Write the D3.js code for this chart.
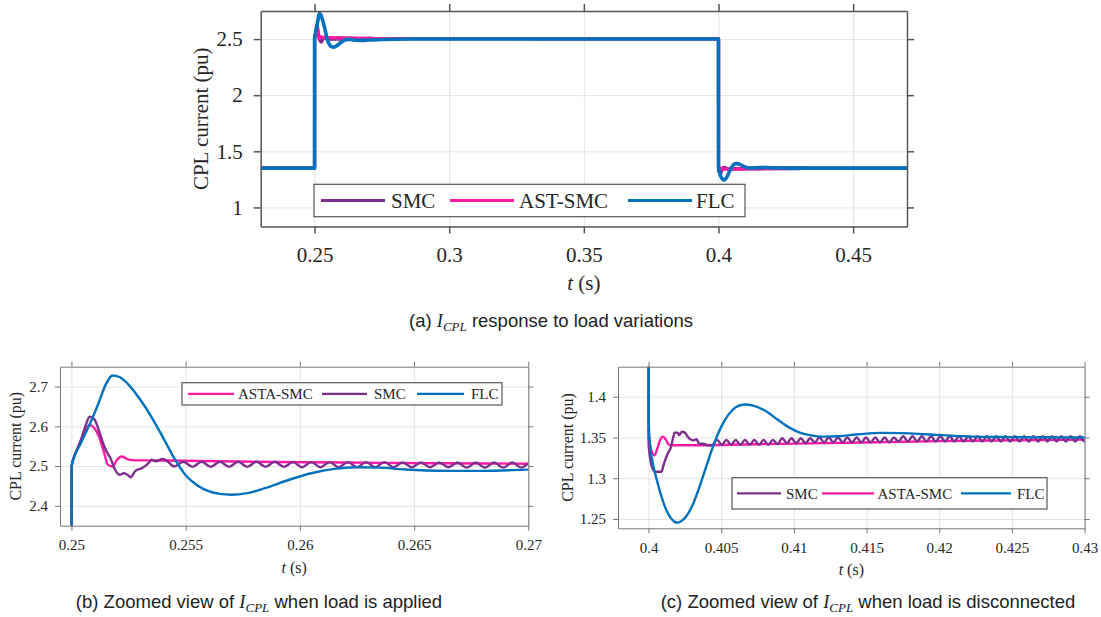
<!DOCTYPE html>
<html>
<head>
<meta charset="utf-8">
<script src="https://cdn.jsdelivr.net/npm/d3@7"></script>
<style>
body { margin: 0; background: #fff; }
svg { display: block; font-family: "Liberation Serif", "Times New Roman", serif; }
.cap { font-family: "Liberation Sans", Arial, sans-serif; fill: #222; }
</style>
</head>
<body>
<svg width="1101" height="617"></svg>
<script>
// ---- data (t in s, current in pu) ----

// FLC: step up at 0.25 s, step down at 0.4 s
const flcData = [
  [0.23, 1.35], [0.25, 1.35], [0.25001, 2.5], [0.2504, 2.556], [0.2508, 2.605], [0.2512, 2.66],
  [0.2515, 2.705], [0.2518, 2.728], [0.2521, 2.724], [0.2525, 2.705], [0.253, 2.668], [0.2535, 2.624],
  [0.254, 2.573], [0.2545, 2.52], [0.255, 2.477], [0.2555, 2.452], [0.256, 2.437], [0.2565, 2.43],
  [0.257, 2.428], [0.2577, 2.432], [0.2585, 2.445], [0.2595, 2.465], [0.2605, 2.482], [0.2615, 2.493],
  [0.2625, 2.497], [0.2635, 2.496], [0.2645, 2.492], [0.2655, 2.489], [0.2665, 2.488], [0.268, 2.488],
  [0.27, 2.491], [0.275, 2.496], [0.285, 2.5], [0.4, 2.5],
  [0.40001, 1.37], [0.4001, 1.342], [0.4003, 1.318], [0.4006, 1.296], [0.4009, 1.277], [0.4012, 1.262],
  [0.4015, 1.252], [0.4018, 1.2465], [0.402, 1.2455], [0.4023, 1.248], [0.4027, 1.256], [0.4031, 1.27],
  [0.4035, 1.289], [0.404, 1.316], [0.4045, 1.342], [0.405, 1.363], [0.4055, 1.378], [0.406, 1.387],
  [0.4066, 1.3905], [0.4072, 1.389], [0.408, 1.383], [0.4088, 1.373], [0.4096, 1.363], [0.4104, 1.356],
  [0.4112, 1.3525], [0.412, 1.351], [0.413, 1.3515], [0.4145, 1.354], [0.416, 1.3556], [0.4175, 1.3553],
  [0.419, 1.354], [0.421, 1.352], [0.424, 1.3506], [0.427, 1.3502], [0.43, 1.35], [0.47, 1.35]
];

// AST(A)-SMC
const astData = [
  [0.23, 1.35], [0.25, 1.35], [0.25001, 2.5], [0.2502, 2.535], [0.2504, 2.562], [0.2506, 2.59],
  [0.2508, 2.603], [0.251, 2.596], [0.2512, 2.575], [0.2514, 2.54], [0.2516, 2.503], [0.2518, 2.499],
  [0.252, 2.516], [0.2522, 2.524], [0.2524, 2.519], [0.2526, 2.515], [0.254, 2.514], [0.258, 2.511],
  [0.262, 2.509], [0.266, 2.507], [0.27, 2.506], [0.28, 2.503], [0.4, 2.502],
  [0.40001, 1.35], [0.4002, 1.334], [0.4004, 1.328], [0.4006, 1.336], [0.4008, 1.347], [0.401, 1.351],
  [0.4012, 1.347], [0.4014, 1.341], [0.4016, 1.3405], [0.41, 1.3425], [0.42, 1.3455], [0.43, 1.3475],
  [0.47, 1.349]
];

// SMC: transient after load step
const smcStepUp = [
  [0.23, 1.35], [0.25, 1.35], [0.25001, 2.5], [0.2502, 2.535], [0.2504, 2.563], [0.2506, 2.598],
  [0.2508, 2.624], [0.251, 2.618], [0.2512, 2.59], [0.2514, 2.555], [0.2516, 2.53], [0.2517, 2.521],
  [0.2519, 2.492], [0.2521, 2.478], [0.2523, 2.482], [0.2525, 2.476], [0.2526, 2.472], [0.2528, 2.488],
  [0.2531, 2.495], [0.2534, 2.509], [0.2535, 2.516], [0.2537, 2.512], [0.254, 2.518], [0.2542, 2.512]
];
// SMC chattering after the load is applied
const smcChatterB = [
  [0.2545, 2.499], [0.2549, 2.511], [0.2553, 2.498], [0.2557, 2.511], [0.2561, 2.498], [0.2565, 2.511],
  [0.2569, 2.498], [0.2573, 2.511], [0.2577, 2.498], [0.2581, 2.511], [0.2585, 2.498], [0.2589, 2.511],
  [0.2593, 2.498], [0.2597, 2.51], [0.2601, 2.497], [0.2605, 2.51], [0.2609, 2.497], [0.2613, 2.51],
  [0.2617, 2.497], [0.2621, 2.51], [0.2625, 2.497], [0.2629, 2.51], [0.2633, 2.497], [0.2637, 2.51],
  [0.2641, 2.497], [0.2645, 2.509], [0.2649, 2.497], [0.2653, 2.509], [0.2657, 2.497], [0.2661, 2.509],
  [0.2665, 2.497], [0.2669, 2.509], [0.2673, 2.496], [0.2677, 2.509], [0.2681, 2.496], [0.2685, 2.509],
  [0.2689, 2.496], [0.2693, 2.509], [0.2697, 2.496], [0.2701, 2.509]
];
// SMC transient after load is disconnected
const smcStepDown = [
  [0.272, 2.504], [0.4, 2.503], [0.40001, 1.34], [0.4003, 1.311], [0.4005, 1.308], [0.4009, 1.308],
  [0.401, 1.314], [0.4012, 1.325], [0.4014, 1.333], [0.4015, 1.336], [0.4017, 1.35], [0.4018, 1.356],
  [0.402, 1.356], [0.4021, 1.353], [0.4023, 1.357], [0.4025, 1.356], [0.4027, 1.351], [0.4029, 1.3475],
  [0.4031, 1.3465], [0.4033, 1.348], [0.4035, 1.342], [0.4038, 1.3425], [0.4041, 1.34]
];
const smcChatterC = [
  [0.4044, 1.341], [0.40472, 1.347], [0.40504, 1.341], [0.40536, 1.347], [0.40568, 1.341], [0.406, 1.347],
  [0.40632, 1.341], [0.40664, 1.347], [0.40696, 1.341], [0.40728, 1.347], [0.4076, 1.341], [0.40792, 1.347],
  [0.40824, 1.341], [0.40856, 1.347], [0.40888, 1.342], [0.4092, 1.349], [0.40952, 1.343], [0.40984, 1.349],
  [0.41016, 1.343], [0.41048, 1.349], [0.4108, 1.343], [0.41112, 1.349], [0.41144, 1.344], [0.41176, 1.35],
  [0.41208, 1.344], [0.4124, 1.35], [0.41272, 1.344], [0.41304, 1.35], [0.41336, 1.344], [0.41368, 1.35],
  [0.414, 1.344], [0.41432, 1.35], [0.41464, 1.344], [0.41496, 1.35], [0.41528, 1.344], [0.4156, 1.35],
  [0.41592, 1.344], [0.41624, 1.35], [0.41656, 1.344], [0.41688, 1.35], [0.4172, 1.345], [0.41752, 1.3515],
  [0.41784, 1.345], [0.41816, 1.3515], [0.41848, 1.345], [0.4188, 1.3515], [0.41912, 1.345], [0.41944, 1.3515],
  [0.41976, 1.345], [0.42008, 1.3515], [0.4204, 1.345], [0.42072, 1.3515], [0.42104, 1.345], [0.42136, 1.3515],
  [0.42168, 1.345], [0.422, 1.3515], [0.42232, 1.345], [0.42264, 1.3515], [0.42296, 1.345], [0.42328, 1.3515],
  [0.4236, 1.345], [0.42392, 1.3515], [0.42424, 1.345], [0.42456, 1.3515], [0.42488, 1.345], [0.4252, 1.3515],
  [0.42552, 1.345], [0.42584, 1.3515], [0.42616, 1.345], [0.42648, 1.3515], [0.4268, 1.345], [0.42712, 1.3515],
  [0.42744, 1.345], [0.42776, 1.3515], [0.42808, 1.345], [0.4284, 1.3515], [0.42872, 1.345], [0.42904, 1.3515],
  [0.42936, 1.345], [0.42968, 1.3515], [0.43, 1.345], [0.43032, 1.3515]
];
const smcTail = [[0.435, 1.348], [0.47, 1.349]];
const smcData = smcStepUp.concat(smcChatterB, smcStepDown, smcChatterC, smcTail);

// ticks
const xTicksA = [0.25, 0.3, 0.35, 0.4, 0.45];
const yTicksA = [1, 1.5, 2, 2.5];
const xTicksB = [0.25, 0.255, 0.26, 0.265, 0.27];
const yTicksB = [2.4, 2.5, 2.6, 2.7];
const xTicksC = [0.4, 0.405, 0.41, 0.415, 0.42, 0.425, 0.43];
const yTicksC = [1.25, 1.3, 1.35, 1.4];

const colors = { SMC: "#7E2F8E", AST: "#FF1AA6", FLC: "#0072BD" };
const serif = '"Liberation Serif", "Times New Roman", serif';

const svg = d3.select("svg");
const fmt = d => String(+d.toFixed(4));

function drawPanel(o) {
  const g = svg.append("g");
  const x = d3.scaleLinear().domain(o.xDom).range([o.left, o.right]);
  const y = d3.scaleLinear().domain(o.yDom).range([o.bottom, o.top]);
  const h = o.bottom - o.top, w = o.right - o.left;

  // grid
  g.append("g").attr("transform", `translate(0,${o.bottom})`)
    .call(d3.axisBottom(x).tickValues(o.xTicks).tickSize(-h).tickFormat(""))
    .call(s => { s.select(".domain").remove(); s.selectAll("line").attr("stroke", "#e4e4e4"); });
  g.append("g").attr("transform", `translate(${o.left},0)`)
    .call(d3.axisLeft(y).tickValues(o.yTicks).tickSize(-w).tickFormat(""))
    .call(s => { s.select(".domain").remove(); s.selectAll("line").attr("stroke", "#e4e4e4"); });

  svg.append("clipPath").attr("id", "clip" + o.name)
    .append("rect").attr("x", o.left).attr("y", o.top).attr("width", w).attr("height", h);

  const line = d3.line().x(d => x(d[0])).y(d => y(d[1])).curve(d3.curveMonotoneX);
  o.series.forEach(s => {
    g.append("path").datum(s.data)
      .attr("d", line)
      .attr("fill", "none")
      .attr("stroke", colors[s.key])
      .attr("stroke-width", s.lw || o.lw)
      .attr("stroke-linejoin", "round")
      .attr("clip-path", `url(#clip${o.name})`);
  });

  // axes on all four sides, ticks outward
  const styleAxis = s => {
    s.attr("font-family", null).attr("font-size", null);
    s.select(".domain").attr("stroke", o.frame).attr("stroke-width", o.frameW);
    s.selectAll(".tick line").attr("stroke", o.frame).attr("stroke-width", o.frameW);
    s.selectAll("text").attr("fill", "#262626")
      .style("font-family", serif).style("font-size", o.tickFont + "px");
  };
  g.append("g").attr("transform", `translate(0,${o.bottom})`)
    .call(d3.axisBottom(x).tickValues(o.xTicks).tickSize(o.tick).tickSizeOuter(0).tickPadding(o.xPad).tickFormat(fmt))
    .call(styleAxis);
  g.append("g").attr("transform", `translate(0,${o.top})`)
    .call(d3.axisTop(x).tickValues(o.xTicks).tickSize(o.tick).tickSizeOuter(0).tickFormat(""))
    .call(styleAxis);
  g.append("g").attr("transform", `translate(${o.left},0)`)
    .call(d3.axisLeft(y).tickValues(o.yTicks).tickSize(o.tick).tickSizeOuter(0).tickPadding(o.yPad).tickFormat(fmt))
    .call(styleAxis);
  g.append("g").attr("transform", `translate(${o.right},0)`)
    .call(d3.axisRight(y).tickValues(o.yTicks).tickSize(o.tick).tickSizeOuter(0).tickFormat(""))
    .call(styleAxis);

  // axis titles
  const xt = g.append("text").attr("x", (o.left + o.right) / 2).attr("y", o.xTitleY)
    .attr("text-anchor", "middle").style("font-size", o.titleFont + "px").attr("fill", "#262626");
  xt.append("tspan").attr("font-style", "italic").text("t");
  xt.append("tspan").text(" (s)");
  g.append("text")
    .attr("transform", `translate(${o.yTitleX},${(o.top + o.bottom) / 2}) rotate(-90)`)
    .attr("text-anchor", "middle").style("font-size", o.titleFont + "px").attr("fill", "#262626")
    .text("CPL current (pu)");

  // legend
  const L = o.legend;
  const lg = g.append("g");
  lg.append("rect").attr("x", L.x0).attr("y", L.y0).attr("width", L.x1 - L.x0).attr("height", L.y1 - L.y0)
    .attr("fill", "#fff").attr("stroke", "#555").attr("stroke-width", 1.2);
  const cy = (L.y0 + L.y1) / 2;
  L.items.forEach(it => {
    lg.append("line").attr("x1", it.lx0).attr("x2", it.lx1).attr("y1", cy).attr("y2", cy)
      .attr("stroke", colors[it.key]).attr("stroke-width", L.lw);
    lg.append("text").attr("x", it.tx).attr("y", cy).attr("dy", "0.35em")
      .style("font-size", L.font + "px").attr("fill", "#262626").text(it.label);
  });
}

// (a) full response
drawPanel({
  name: "A", left: 260.7, right: 907, top: 11, bottom: 226.5,
  xDom: [0.23, 0.47], yDom: [0.83, 2.75], xTicks: xTicksA, yTicks: yTicksA,
  tick: 7, xPad: 14, yPad: 11, tickFont: 21, titleFont: 21, xTitleY: 290, yTitleX: 208,
  frame: "#555", frameW: 1.5, lw: 3.2,
  series: [{ key: "SMC", data: smcData }, { key: "AST", data: astData }, { key: "FLC", data: flcData, lw: 3.6 }],
  legend: { x0: 314, x1: 745, y0: 184.3, y1: 216.7, lw: 3.2, font: 21, items: [
    { key: "SMC", label: "SMC", lx0: 321, lx1: 385, tx: 391 },
    { key: "AST", label: "AST-SMC", lx0: 450, lx1: 514, tx: 519 },
    { key: "FLC", label: "FLC", lx0: 628, lx1: 692, tx: 696 }
  ] }
});

// (b) zoom when load is applied
drawPanel({
  name: "B", left: 60, right: 528.3, top: 366.7, bottom: 525.7,
  xDom: [0.2495, 0.27], yDom: [2.35, 2.75], xTicks: xTicksB, yTicks: yTicksB,
  tick: 5, xPad: 9, yPad: 7, tickFont: 15, titleFont: 16, xTitleY: 573, yTitleX: 21,
  frame: "#777", frameW: 1, lw: 2.4,
  series: [{ key: "AST", data: astData }, { key: "SMC", data: smcData }, { key: "FLC", data: flcData }],
  legend: { x0: 182, x1: 502, y0: 382.7, y1: 405, lw: 2.4, font: 15, items: [
    { key: "AST", label: "ASTA-SMC", lx0: 188, lx1: 234, tx: 238 },
    { key: "SMC", label: "SMC", lx0: 322, lx1: 367, tx: 374 },
    { key: "FLC", label: "FLC", lx0: 417, lx1: 464, tx: 471 }
  ] }
});

// (c) zoom when load is disconnected
drawPanel({
  name: "C", left: 618, right: 1084.6, top: 366.7, bottom: 528.3,
  xDom: [0.3979, 0.43], yDom: [1.2386, 1.4368], xTicks: xTicksC, yTicks: yTicksC,
  tick: 5, xPad: 9, yPad: 7, tickFont: 15, titleFont: 16, xTitleY: 575, yTitleX: 573,
  frame: "#777", frameW: 1, lw: 2.4,
  series: [{ key: "AST", data: astData }, { key: "SMC", data: smcData }, { key: "FLC", data: flcData }],
  legend: { x0: 732, x1: 1047, y0: 477.7, y1: 509, lw: 2.4, font: 15, items: [
    { key: "SMC", label: "SMC", lx0: 737, lx1: 781, tx: 786 },
    { key: "AST", label: "ASTA-SMC", lx0: 822, lx1: 874, tx: 877.5 },
    { key: "FLC", label: "FLC", lx0: 961, lx1: 1011, tx: 1017 }
  ] }
});

// captions
function caption(x, y, pre, post) {
  const t = svg.append("text").attr("class", "cap").attr("x", x).attr("y", y)
    .attr("text-anchor", "middle").style("font-size", "18.5px");
  t.append("tspan").text(pre);
  t.append("tspan").style("font-family", serif).attr("font-style", "italic").text("I");
  t.append("tspan").style("font-family", serif).attr("font-style", "italic")
    .style("font-size", "13px").attr("dy", 4).text("CPL");
  t.append("tspan").attr("dy", -4).text(post);
}
caption(551, 327, "(a) ", " response to load variations");
caption(259, 608, "(b) Zoomed view of ", " when load is applied");
caption(868, 608, "(c) Zoomed view of ", " when load is disconnected");
</script>
</body>
</html>
